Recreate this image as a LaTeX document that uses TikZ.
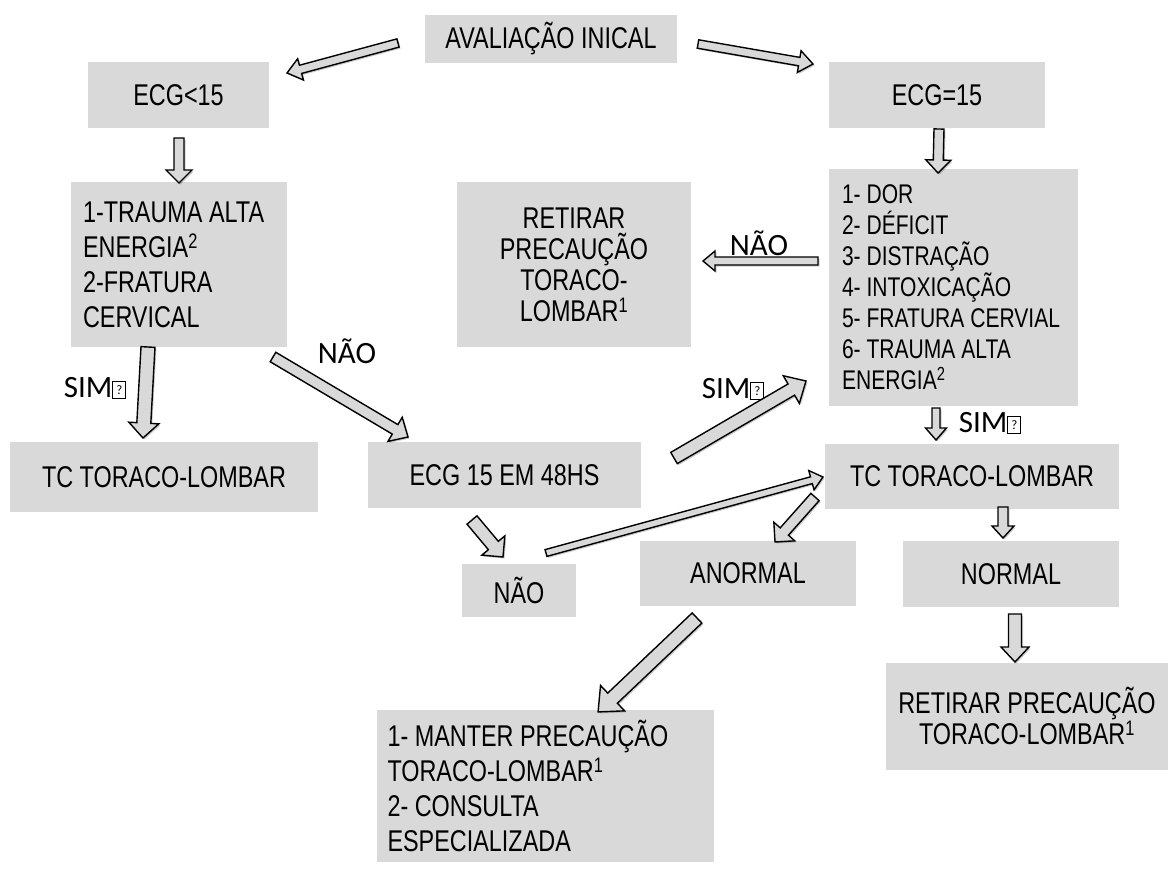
\documentclass[tikz,border=0pt]{standalone}
\usepackage{fontspec}
\setmainfont{Liberation Sans}[FakeStretch=0.78]
\newfontfamily\labfont{Carlito}
\usetikzlibrary{calc,shadows}
\definecolor{boxgray}{HTML}{D9D9D9}
\newcommand\qbox{{\fboxsep=0pt\fboxrule=0.8pt\fbox{\parbox[b][16pt][c]{12pt}{\centering\fontsize{13}{13}\selectfont ?}}}}
\tikzset{
  gbox/.style={fill=boxgray, inner sep=0pt, align=center, font=\fontsize{30}{31}\selectfont},
  lab/.style={inner sep=0pt, font=\labfont\fontsize{31}{33}\selectfont},
  blockarr/.style={draw=black, line width=1.4pt, fill=boxgray, line join=miter,
    drop shadow={shadow xshift=1.5pt, shadow yshift=-1.5pt, fill=black, opacity=0.2}},
}
\newcommand\blockarrow[5]{%
  \path let \p1=(#1), \p2=(#2),
    \n1={atan2(\y2-\y1,\x2-\x1)},
    \n2={veclen(\x2-\x1,\y2-\y1)} in
    \pgfextra{\xdef\bAng{\n1}\xdef\bLen{\n2}};
  \draw[blockarr, shift={(#1)}, rotate=\bAng]
    (0,#3/2) -- (\bLen-#5,#3/2) -- (\bLen-#5,#4/2) -- (\bLen,0)
    -- (\bLen-#5,-#4/2) -- (\bLen-#5,-#3/2) -- (0,-#3/2) -- cycle;
}
\begin{document}
\begin{tikzpicture}[x=1pt,y=-1pt]
\useasboundingbox (0,0) rectangle (1168,873);
% boxes
\node[gbox, minimum width=252pt, minimum height=48pt] (aval) at (551,39) {AVALIAÇÃO INICAL};
\node[gbox, minimum width=181pt, minimum height=66pt] (ecgL) at (178.5,95) {ECG<15};
\node[gbox, minimum width=216pt, minimum height=66pt] (ecgR) at (937,95) {ECG=15};
\node[gbox, minimum height=165pt, inner xsep=12pt, text width=192pt, align=flush left,
  font=\fontsize{30}{35}\selectfont] (trauma) at (179,264.5)
  {1-TRAUMA ALTA\\ENERGIA\textsuperscript{2}\\2-FRATURA\\CERVICAL};
\node[gbox, minimum width=234pt, minimum height=165pt] (retM) at (574,264.5)
  {RETIRAR\\PRECAUÇÃO\\TORACO-\\LOMBAR\textsuperscript{1}};
\node[gbox, minimum height=237pt, inner xsep=13pt, text width=223pt, align=flush left,
  font=\fontsize{27}{31}\selectfont] (list) at (953.5,287)
  {1- DOR\\2- DÉFICIT\\3- DISTRAÇÃO\\4- INTOXICAÇÃO\\5- FRATURA CERVIAL\\6- TRAUMA ALTA\\ENERGIA\textsuperscript{2}};
\node[gbox, minimum width=308pt, minimum height=70pt] (tcL) at (164,477) {TC TORACO-LOMBAR};
\node[gbox, minimum width=273pt, minimum height=66pt] (ecg48) at (504.5,475) {ECG 15 EM 48HS};
\node[gbox, minimum width=294pt, minimum height=65pt] (tcR) at (972,476.5) {TC TORACO-LOMBAR};
\node[gbox, minimum width=114pt, minimum height=53pt] (nao) at (519,590.5) {NÃO};
\node[gbox, minimum width=216pt, minimum height=65pt] (anor) at (748,573.5) {ANORMAL};
\node[gbox, minimum width=216pt, minimum height=66pt] (norm) at (1011,574) {NORMAL};
\node[gbox, minimum width=282pt, minimum height=107pt, font=\fontsize{30}{29}\selectfont] (retR) at (1027,716)
  {RETIRAR PRECAUÇÃO\\TORACO-LOMBAR\textsuperscript{1}};
\node[gbox, minimum height=152pt, inner xsep=11pt, text width=315pt, align=flush left,
  font=\fontsize{30}{35}\selectfont] (manter) at (545,786)
  {1- MANTER PRECAUÇÃO\\TORACO-LOMBAR\textsuperscript{1}\\2- CONSULTA\\ESPECIALIZADA};
% labels
\node[lab] (labNaoL) at (347,351) {NÃO};
\node[lab] (labSimL) at (95,388) {SIM\qbox};
\node[lab] (labNaoM) at (759,243) {NÃO};
\node[lab] (labSimM) at (733,389) {SIM\qbox};
\node[lab] (labSimR) at (990,423) {SIM\qbox};
% arrow end points
\coordinate (a1s) at (398,43);  \coordinate (a1e) at (287,73);
\coordinate (a2s) at (698,44);  \coordinate (a2e) at (813,64);
\coordinate (a3s) at (179,138); \coordinate (a3e) at (179,183);
\coordinate (a4s) at (939,129); \coordinate (a4e) at (938,173);
\coordinate (a5s) at (148,347); \coordinate (a5e) at (143,438);
\coordinate (a6s) at (273,357); \coordinate (a6e) at (408,437);
\coordinate (a7s) at (818,261); \coordinate (a7e) at (703,261);
\coordinate (a8s) at (674,458); \coordinate (a8e) at (806,381);
\coordinate (a9s) at (936,408); \coordinate (a9e) at (936,440);
\coordinate (a10s) at (546,553); \coordinate (a10e) at (823,477);
\coordinate (a11s) at (815,497); \coordinate (a11e) at (775,542);
\coordinate (a12s) at (472,520); \coordinate (a12e) at (503,557);
\coordinate (a13s) at (1003,507); \coordinate (a13e) at (1003,538);
\coordinate (a14s) at (1015,614); \coordinate (a14e) at (1015,662);
\coordinate (a15s) at (697,618); \coordinate (a15e) at (598,712);
% arrows
\blockarrow{a1s}{a1e}{8.5}{22}{14}
\blockarrow{a2s}{a2e}{8.5}{22}{14}
\blockarrow{a3s}{a3e}{10}{26}{13}
\blockarrow{a4s}{a4e}{10}{25}{13}
\blockarrow{a5s}{a5e}{14}{30}{15}
\blockarrow{a6s}{a6e}{11}{28}{15}
\blockarrow{a7s}{a7e}{8}{20}{12}
\blockarrow{a8s}{a8e}{13}{32}{17}
\blockarrow{a9s}{a9e}{8}{21}{12}
\blockarrow{a10s}{a10e}{7}{20}{12}
\blockarrow{a11s}{a11e}{11}{28}{14}
\blockarrow{a12s}{a12e}{13}{30}{15}
\blockarrow{a13s}{a13e}{10}{22}{12}
\blockarrow{a14s}{a14e}{13}{28}{15}
\blockarrow{a15s}{a15e}{14}{35}{20}
\end{tikzpicture}
\end{document}
